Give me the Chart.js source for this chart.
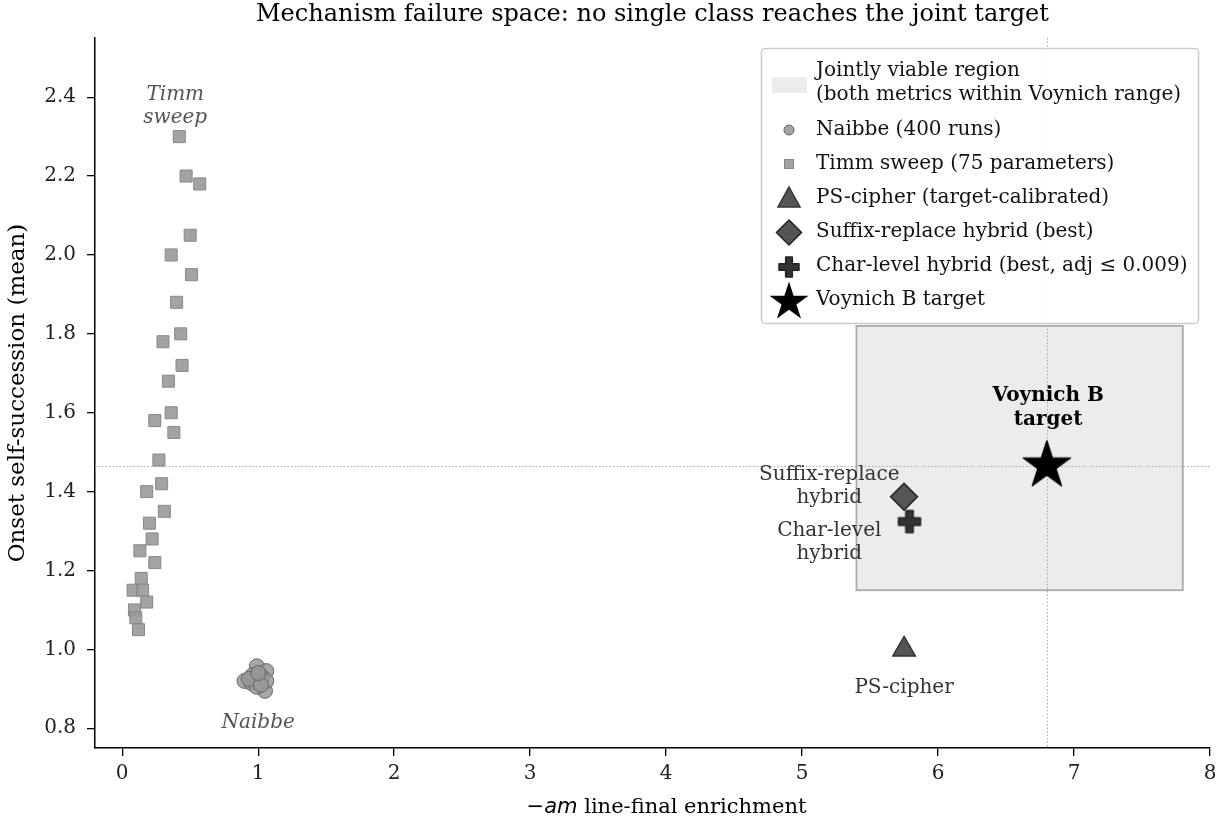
<!DOCTYPE html>
<html>
<head>
<meta charset="utf-8">
<script src="https://cdn.jsdelivr.net/npm/chart.js@4.4.1/dist/chart.umd.min.js"></script>
<style>
  html, body { margin: 0; padding: 0; background: #fff; }
  canvas { display: block; }
</style>
</head>
<body>
<canvas id="c" width="1225" height="822"></canvas>
<script>
// ---- data ----
const timmX = [0.42, 0.47, 0.57, 0.50, 0.36, 0.51, 0.40, 0.43, 0.30, 0.44, 0.34, 0.36, 0.24, 0.38, 0.27,
               0.29, 0.18, 0.31, 0.20, 0.22, 0.13, 0.24, 0.14, 0.08, 0.15, 0.18, 0.09, 0.10, 0.12];
const timmY = [2.30, 2.20, 2.18, 2.05, 2.00, 1.95, 1.88, 1.80, 1.78, 1.72, 1.68, 1.60, 1.58, 1.55, 1.48,
               1.42, 1.40, 1.35, 1.32, 1.28, 1.25, 1.22, 1.18, 1.15, 1.15, 1.12, 1.10, 1.08, 1.05];
const naibbeX = [0.99, 1.06, 0.90, 1.03, 0.95, 1.05, 0.99, 1.06, 0.96, 0.93, 1.02, 1.00];
const naibbeY = [0.957, 0.945, 0.920, 0.930, 0.915, 0.895, 0.905, 0.920, 0.935, 0.925, 0.910, 0.940];
const psCipher = [5.75, 1.00];
const suffixHybrid = [5.75, 1.387];
const charHybrid = [5.79, 1.324];
const voynichB = [6.80, 1.466];
const viableX = [5.40, 7.80];
const viableY = [1.15, 1.82];
const xTicks = [0, 1, 2, 3, 4, 5, 6, 7, 8];
const yTicks = [0.8, 1.0, 1.2, 1.4, 1.6, 1.8, 2.0, 2.2, 2.4];

const FONT = "'DejaVu Serif', 'Liberation Serif', serif";
const SANS = "'DejaVu Sans', sans-serif";

const pts = (xs, ys) => xs.map((x, i) => ({ x, y: ys[i] }));

// ---- custom filled markers (star, plus) ----
function starPath(ctx, cx, cy, R) {
  const r = R * 0.382;
  ctx.beginPath();
  for (let i = 0; i < 10; i++) {
    const a = -Math.PI / 2 + i * Math.PI / 5;
    const rr = i % 2 === 0 ? R : r;
    const px = cx + rr * Math.cos(a), py = cy + rr * Math.sin(a);
    i === 0 ? ctx.moveTo(px, py) : ctx.lineTo(px, py);
  }
  ctx.closePath();
}
function plusPath(ctx, cx, cy, h) {
  const t = h / 3;
  ctx.beginPath();
  ctx.moveTo(cx - t / 2, cy - h / 2);
  ctx.lineTo(cx + t / 2, cy - h / 2);
  ctx.lineTo(cx + t / 2, cy - t / 2);
  ctx.lineTo(cx + h / 2, cy - t / 2);
  ctx.lineTo(cx + h / 2, cy + t / 2);
  ctx.lineTo(cx + t / 2, cy + t / 2);
  ctx.lineTo(cx + t / 2, cy + h / 2);
  ctx.lineTo(cx - t / 2, cy + h / 2);
  ctx.lineTo(cx - t / 2, cy + t / 2);
  ctx.lineTo(cx - h / 2, cy + t / 2);
  ctx.lineTo(cx - h / 2, cy - t / 2);
  ctx.lineTo(cx - t / 2, cy - t / 2);
  ctx.closePath();
}
function markerCanvas(size, draw) {
  const c = document.createElement('canvas');
  c.width = size; c.height = size;
  draw(c.getContext('2d'), size / 2, size / 2);
  return c;
}
function makeStar(R) {
  return markerCanvas(Math.ceil(2 * R + 6), (ctx, cx, cy) => {
    starPath(ctx, cx, cy, R);
    ctx.fillStyle = '#000'; ctx.fill();
    ctx.lineJoin = 'round'; ctx.lineWidth = 1.2; ctx.strokeStyle = '#000'; ctx.stroke();
  });
}
function makePlus(h) {
  return markerCanvas(Math.ceil(h + 6), (ctx, cx, cy) => {
    plusPath(ctx, cx, cy, h);
    ctx.fillStyle = '#333'; ctx.fill();
    ctx.lineJoin = 'round'; ctx.lineWidth = 1.5; ctx.strokeStyle = '#222'; ctx.stroke();
  });
}

// ---- annotation text (data-space anchors) ----
const textLabels = [
  { lines: ['Timm', 'sweep'], x: 0.39, y: 2.377, style: 'italic', color: '#555', weight: 'normal' },
  { lines: ['Naibbe'], x: 1.0, y: 0.815, style: 'italic', color: '#555', weight: 'normal' },
  { lines: ['Suffix-replace', 'hybrid'], x: 5.20, y: 1.413, style: 'normal', color: '#333', weight: 'normal' },
  { lines: ['Char-level', 'hybrid'], x: 5.20, y: 1.272, style: 'normal', color: '#333', weight: 'normal' },
  { lines: ['PS-cipher'], x: 5.75, y: 0.903, style: 'normal', color: '#333', weight: 'normal' },
  { lines: ['Voynich B', 'target'], x: 6.81, y: 1.613, style: 'normal', color: '#000', weight: 'bold' }
];

const backdrop = {
  id: 'backdrop',
  beforeDatasetsDraw(chart) {
    const { ctx, scales: { x, y }, chartArea: a } = chart;
    ctx.save();
    // jointly viable region
    const x0 = x.getPixelForValue(viableX[0]), x1 = x.getPixelForValue(viableX[1]);
    const y0 = y.getPixelForValue(viableY[1]), y1 = y.getPixelForValue(viableY[0]);
    ctx.fillStyle = '#ececec';
    ctx.fillRect(x0, y0, x1 - x0, y1 - y0);
    ctx.strokeStyle = '#aaaaaa'; ctx.lineWidth = 1.8;
    ctx.strokeRect(x0, y0, x1 - x0, y1 - y0);
    // target reference lines
    ctx.strokeStyle = '#aaaaaa'; ctx.lineWidth = 1; ctx.setLineDash([1.5, 2]);
    const vx = Math.round(x.getPixelForValue(voynichB[0])) + 0.5;
    const vy = Math.round(y.getPixelForValue(voynichB[1])) + 0.5;
    ctx.beginPath(); ctx.moveTo(vx, a.top); ctx.lineTo(vx, a.bottom); ctx.stroke();
    ctx.beginPath(); ctx.moveTo(a.left, vy); ctx.lineTo(a.right, vy); ctx.stroke();
    ctx.restore();
  },
  afterDatasetsDraw(chart) {
    const { ctx, scales: { x, y } } = chart;
    ctx.save();
    ctx.textAlign = 'center'; ctx.textBaseline = 'middle';
    textLabels.forEach(l => {
      ctx.font = `${l.style} ${l.weight} 20px ${FONT}`;
      ctx.fillStyle = l.color;
      const px = x.getPixelForValue(l.x), py = y.getPixelForValue(l.y);
      const lh = 23.5;
      const start = py - (l.lines.length - 1) * lh / 2;
      l.lines.forEach((t, i) => ctx.fillText(t, px, start + i * lh));
    });
    ctx.restore();
  }
};

const frame = {
  id: 'frame',
  afterDraw(chart) {
    const { ctx, chartArea: a } = chart;
    ctx.save();
    // title
    ctx.font = `24px ${FONT}`; ctx.fillStyle = '#000';
    ctx.textAlign = 'center'; ctx.textBaseline = 'middle';
    ctx.fillText('Mechanism failure space: no single class reaches the joint target', (a.left + a.right) / 2, 15);
    // y axis title
    ctx.save();
    ctx.translate(18, (a.top + a.bottom) / 2);
    ctx.rotate(-Math.PI / 2);
    ctx.font = `23px ${FONT}`;
    ctx.fillText('Onset self-succession (mean)', 0, 0);
    ctx.restore();
    // x axis title with italic suffix
    const parts = [
      { t: '\u2212', f: `21px ${SANS}` },
      { t: 'am', f: `italic 21px ${SANS}` },
      { t: ' line-final enrichment', f: `21px ${FONT}` }
    ];
    let total = 0;
    parts.forEach(p => { ctx.font = p.f; p.w = ctx.measureText(p.t).width; total += p.w; });
    let cx = (a.left + a.right) / 2 + 14 - total / 2;
    ctx.textAlign = 'left';
    parts.forEach(p => { ctx.font = p.f; ctx.fillText(p.t, cx, 808); cx += p.w; });

    // legend
    const L = { x: 761, y: 48, w: 437, h: 275 };
    ctx.beginPath();
    ctx.roundRect(L.x + 0.5, L.y + 0.5, L.w, L.h, 4);
    ctx.fillStyle = 'rgba(255,255,255,0.9)'; ctx.fill();
    ctx.strokeStyle = '#cccccc'; ctx.lineWidth = 1.5; ctx.stroke();
    const mx = 789, tx = 816;
    ctx.font = `20px ${FONT}`; ctx.textBaseline = 'middle';
    // region patch
    ctx.fillStyle = '#ececec'; ctx.fillRect(772, 77, 35, 16);
    ctx.fillStyle = '#111';
    ctx.fillText('Jointly viable region', tx, 71);
    ctx.fillText('(both metrics within Voynich range)', tx, 95);
    // circle
    ctx.beginPath(); ctx.arc(mx, 130, 5, 0, Math.PI * 2);
    ctx.fillStyle = 'rgba(153,153,153,0.9)'; ctx.fill();
    ctx.strokeStyle = '#666'; ctx.lineWidth = 1; ctx.stroke();
    ctx.fillStyle = '#111'; ctx.fillText('Naibbe (400 runs)', tx, 130);
    // square
    ctx.fillStyle = 'rgba(153,153,153,0.9)'; ctx.fillRect(mx - 4.5, 159.5, 9, 9);
    ctx.strokeStyle = '#888'; ctx.strokeRect(mx - 4.5, 159.5, 9, 9);
    ctx.fillStyle = '#111'; ctx.fillText('Timm sweep (75 parameters)', tx, 164);
    // triangle
    ctx.beginPath();
    ctx.moveTo(mx, 187); ctx.lineTo(mx + 11, 207); ctx.lineTo(mx - 11, 207); ctx.closePath();
    ctx.fillStyle = '#555'; ctx.fill(); ctx.strokeStyle = '#333'; ctx.lineWidth = 1.5; ctx.stroke();
    ctx.fillStyle = '#111'; ctx.fillText('PS-cipher (target-calibrated)', tx, 198);
    // diamond
    ctx.beginPath();
    ctx.moveTo(mx, 220); ctx.lineTo(mx + 12.5, 232.5); ctx.lineTo(mx, 245); ctx.lineTo(mx - 12.5, 232.5); ctx.closePath();
    ctx.fillStyle = '#555'; ctx.fill(); ctx.strokeStyle = '#222'; ctx.stroke();
    ctx.fillStyle = '#111'; ctx.fillText('Suffix-replace hybrid (best)', tx, 232);
    // plus
    plusPath(ctx, mx, 267, 20);
    ctx.fillStyle = '#333'; ctx.fill(); ctx.strokeStyle = '#222'; ctx.lineJoin = 'round'; ctx.stroke();
    ctx.fillStyle = '#111'; ctx.fillText('Char-level hybrid (best, adj \u2264 0.009)', tx, 266);
    // star
    starPath(ctx, mx, 302, 20.5);
    ctx.fillStyle = '#000'; ctx.fill();
    ctx.fillStyle = '#111'; ctx.fillText('Voynich B target', tx, 300);
    ctx.restore();
  }
};

const tickFont = { family: FONT, size: 20 };

new Chart(document.getElementById('c'), {
  type: 'scatter',
  data: {
    datasets: [
      { label: 'Voynich B target', data: pts([voynichB[0]], [voynichB[1]]), pointStyle: makeStar(25), pointRadius: 25 },
      { label: 'Char-level hybrid', data: pts([charHybrid[0]], [charHybrid[1]]), pointStyle: makePlus(22), pointRadius: 12 },
      { label: 'Suffix-replace hybrid', data: pts([suffixHybrid[0]], [suffixHybrid[1]]), pointStyle: 'rectRot', pointRadius: 13.5,
        backgroundColor: '#555555', borderColor: '#222222', borderWidth: 1.5 },
      { label: 'PS-cipher', data: pts([psCipher[0]], [psCipher[1]]), pointStyle: 'triangle', pointRadius: 13,
        backgroundColor: '#555555', borderColor: '#333333', borderWidth: 1.5 },
      { label: 'Naibbe', data: pts(naibbeX, naibbeY), pointStyle: 'circle', pointRadius: 7.5,
        backgroundColor: 'rgba(153,153,153,0.85)', borderColor: '#666666', borderWidth: 1 },
      { label: 'Timm sweep', data: pts(timmX, timmY), pointStyle: 'rect', pointRadius: 8.5,
        backgroundColor: 'rgba(153,153,153,0.9)', borderColor: '#888888', borderWidth: 1 }
    ]
  },
  options: {
    responsive: false,
    animation: false,
    events: [],
    layout: { autoPadding: false, padding: { top: 38, right: 15, left: 0, bottom: 0 } },
    plugins: { legend: { display: false }, tooltip: { enabled: false }, title: { display: false } },
    scales: {
      x: {
        type: 'linear', min: -0.2, max: 8,
        afterBuildTicks: s => { s.ticks = xTicks.map(v => ({ value: v })); },
        afterFit: s => { s.height = 74; },
        ticks: { font: tickFont, color: '#222', padding: 6, callback: v => String(v) },
        grid: { display: true, drawOnChartArea: false, drawTicks: true, tickLength: 8, color: '#000', lineWidth: 1.3 },
        border: { display: true, color: '#000', width: 1.5 }
      },
      y: {
        type: 'linear', min: 0.75, max: 2.55,
        afterBuildTicks: s => { s.ticks = yTicks.map(v => ({ value: v })); },
        afterFit: s => { s.width = 95; },
        ticks: { font: tickFont, color: '#222', padding: 11, callback: v => v.toFixed(1) },
        grid: { display: true, drawOnChartArea: false, drawTicks: true, tickLength: 8, color: '#000', lineWidth: 1.3 },
        border: { display: true, color: '#000', width: 1.5 }
      }
    }
  },
  plugins: [backdrop, frame]
});
</script>
</body>
</html>
